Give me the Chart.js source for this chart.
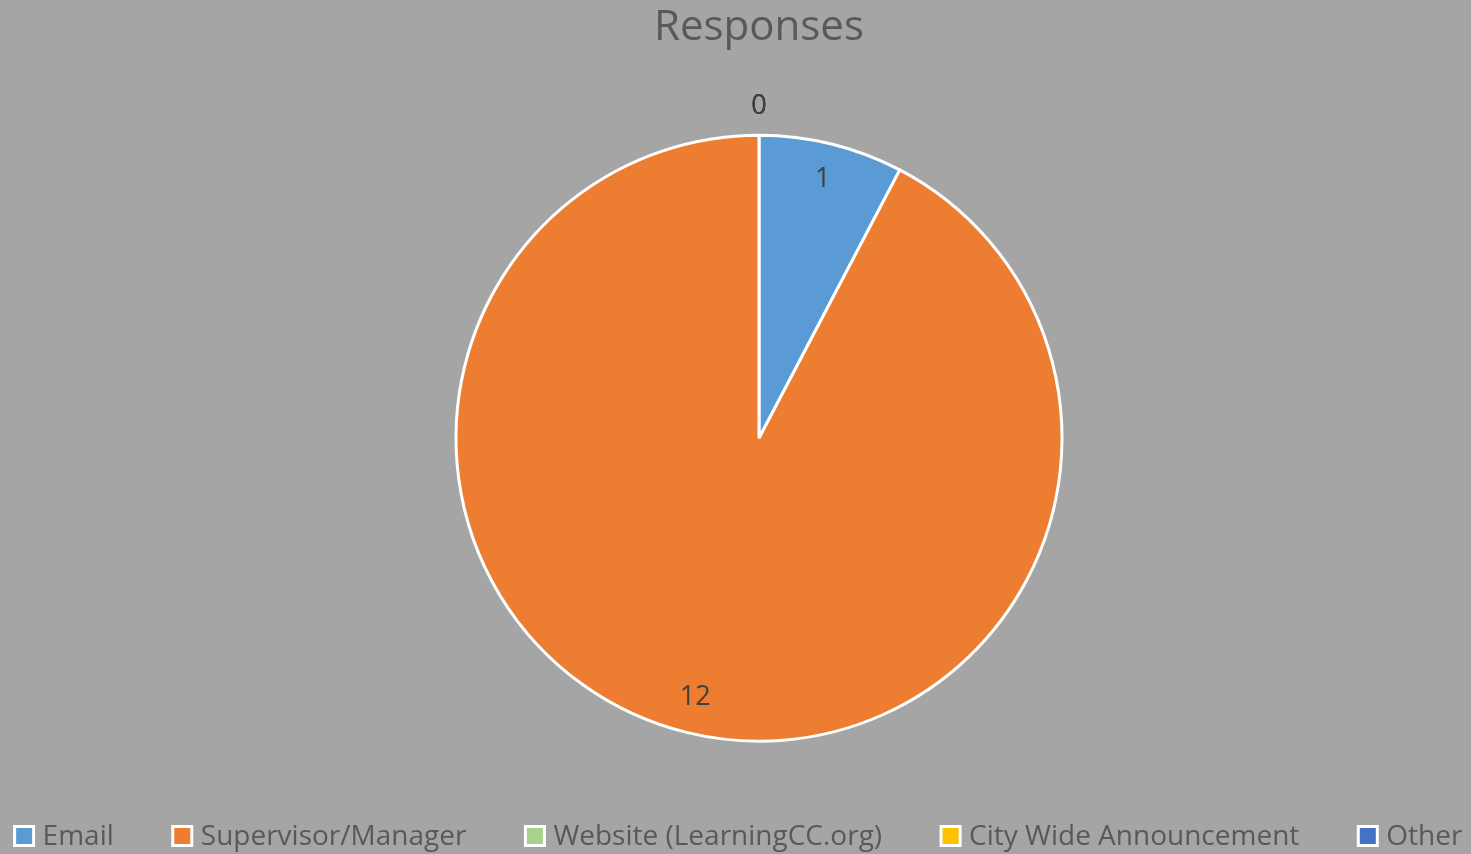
<!DOCTYPE html>
<html>
<head>
<meta charset="utf-8">
<title>Responses</title>
<script src="https://cdn.jsdelivr.net/npm/chart.js@4/dist/chart.umd.min.js"></script>
<style>
    html, body { margin: 0; padding: 0; background: #a5a5a5; }
    #wrap { width: 1471px; height: 854px; position: relative; }
</style>
</head>
<body>
<div id="wrap"><canvas id="chart"></canvas></div>
<script>
    // data
    const categories = ["Email", "Supervisor/Manager", "Website (LearningCC.org)", "City Wide Announcement", "Other"];
    const responses = [1, 12, 0, 0, 0];
    const sliceColors = ["#5b9bd5", "#ed7d31", "#a9d18e", "#ffc000", "#4472c4"];

    const FONT = "'Open Sans', 'Liberation Sans', sans-serif";

    // value labels: inside the slice for non-zero values, just outside the rim for zeros
    const valueLabels = {
        id: "valueLabels",
        afterDatasetsDraw(chart) {
            const ctx = chart.ctx;
            const meta = chart.getDatasetMeta(0);
            ctx.save();
            ctx.font = `27px ${FONT}`;
            ctx.fillStyle = "#404040";
            ctx.textAlign = "center";
            ctx.textBaseline = "middle";
            meta.data.forEach((arc, i) => {
                const v = chart.data.datasets[0].data[i];
                const { x, y, startAngle, endAngle, outerRadius } = arc.getProps(
                    ["x", "y", "startAngle", "endAngle", "outerRadius"], true);
                const mid = (startAngle + endAngle) / 2;
                const r = v === 0 ? outerRadius + 29 : outerRadius * 0.88;
                ctx.fillText(String(v), x + Math.cos(mid) * r, y + Math.sin(mid) * r);
            });
            ctx.restore();
        }
    };

    // one-row legend along the bottom edge, built from the chart's own legend items
    const bottomLegend = {
        id: "bottomLegend",
        afterDraw(chart) {
            const ctx = chart.ctx;
            const items = Chart.overrides.pie.plugins.legend.labels.generateLabels(chart);
            const box = 19, gap = 9, spacing = 59, cy = 836;
            ctx.save();
            ctx.font = `28px ${FONT}`;
            ctx.textBaseline = "middle";
            const widths = items.map(it => box + gap + ctx.measureText(it.text).width);
            const total = widths.reduce((a, b) => a + b, 0) + spacing * (items.length - 1);
            let x = chart.width / 2 + 3 - total / 2;
            items.forEach((it, i) => {
                ctx.fillStyle = it.fillStyle;
                ctx.fillRect(x, cy - box / 2, box, box);
                ctx.strokeStyle = "#ffffff";
                ctx.lineWidth = 3;
                ctx.strokeRect(x, cy - box / 2, box, box);
                ctx.fillStyle = "#595959";
                ctx.fillText(it.text, x + box + gap, cy + 1);
                x += widths[i] + spacing;
            });
            ctx.restore();
        }
    };

    new Chart(document.getElementById("chart"), {
        type: "pie",
        data: {
            labels: categories,
            datasets: [{
                data: responses,
                backgroundColor: sliceColors,
                borderColor: "#ffffff",
                borderWidth: 3,
                radius: 303,
            }],
        },
        plugins: [valueLabels, bottomLegend],
        options: {
            responsive: true,
            maintainAspectRatio: false,
            animation: false,
            layout: { padding: { left: 47, right: 0, top: 0, bottom: 94 } },
            plugins: {
                title: {
                    display: true,
                    text: "Responses",
                    color: "#595959",
                    font: { family: FONT, size: 42, weight: "normal" },
                    padding: { top: 3, bottom: 63 },
                },
                legend: { display: false },
                tooltip: { enabled: false },
            },
        },
    });
</script>
</body>
</html>
